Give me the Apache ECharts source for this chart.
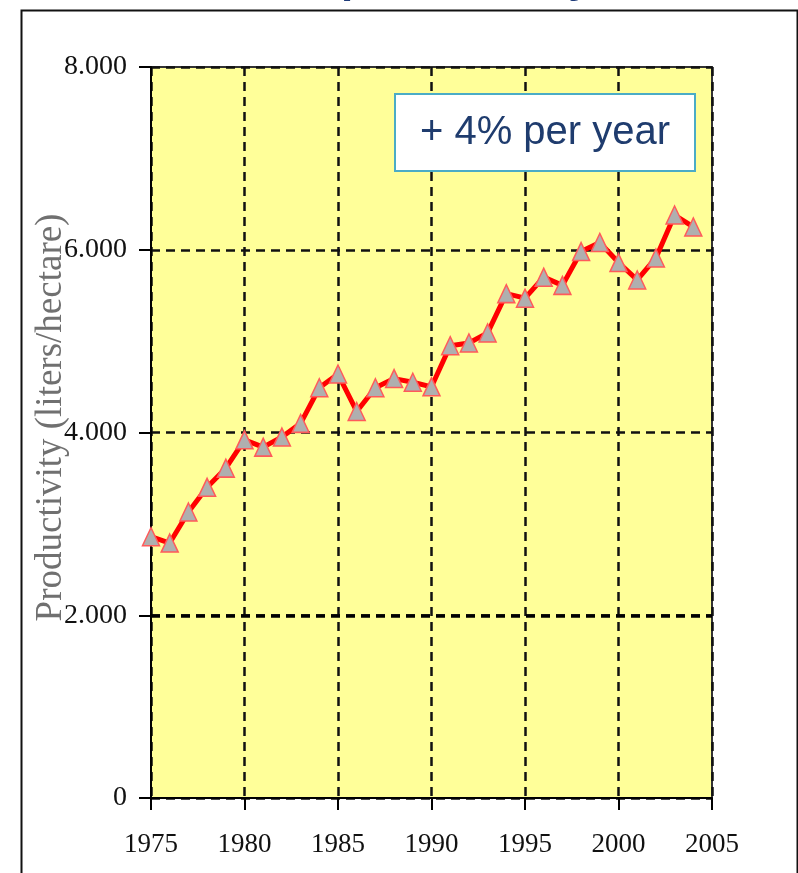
<!DOCTYPE html>
<html>
<head>
<meta charset="utf-8">
<script src="https://cdn.jsdelivr.net/npm/echarts@6/dist/echarts.min.js"></script>
<style>
html,body{margin:0;padding:0;background:#fff;}
#chart{width:798px;height:873px;}
</style>
</head>
<body>
<div id="chart"></div>
<script>
const years = [1975,1976,1977,1978,1979,1980,1981,1982,1983,1984,1985,1986,1987,1988,1989,1990,1991,1992,1993,1994,1995,1996,1997,1998,1999,2000,2001,2002,2003,2004];
const productivity = [2860,2790,3130,3400,3610,3920,3840,3950,4100,4490,4640,4230,4490,4590,4550,4500,4950,4980,5090,5520,5470,5700,5610,5980,6080,5860,5670,5910,6380,6250];
const yTicks = [0,2000,4000,6000,8000];
const xTicks = [1975,1980,1985,1990,1995,2000,2005];
const titleText = 'productivity';
const yAxisName = 'Productivity (liters/hectare)';
const noteText = '+ 4% per year';

const chart = echarts.init(document.getElementById('chart'), null, {renderer:'canvas'});
const serif = '"Liberation Serif","Times New Roman",serif';
const sans = '"Liberation Sans",Arial,sans-serif';
chart.setOption({
  animation:false,
  backgroundColor:'#ffffff',
  grid:{left:151,right:86,top:67,bottom:75,show:true,backgroundColor:'#FFFF99',borderColor:'#333333',borderWidth:2},
  xAxis:{
    type:'value',min:xTicks[0],max:xTicks[xTicks.length-1],interval:5,
    axisLine:{show:true,lineStyle:{color:'#000',width:2}},
    axisTick:{show:true,inside:false,length:12,lineStyle:{color:'#000',width:2}},
    axisLabel:{margin:33,fontFamily:serif,fontSize:27,color:'#111',formatter:v=>String(v)},
    splitLine:{show:true,lineStyle:{color:'#111',width:2.5,type:[9,6]}}
  },
  yAxis:{
    type:'value',min:yTicks[0],max:yTicks[yTicks.length-1],interval:2000,
    name:yAxisName,nameLocation:'middle',nameGap:81,nameMoveOverlap:false,
    nameTextStyle:{fontFamily:serif,fontSize:37,color:'#707070',padding:[0,0,0,30]},
    axisLine:{show:true,lineStyle:{color:'#000',width:2}},
    axisTick:{show:true,inside:false,length:12,lineStyle:{color:'#000',width:2}},
    axisLabel:{margin:24,fontFamily:serif,fontSize:28,color:'#111',
      formatter:v=>v===0?'0':(v/1000).toFixed(0)+'.000'},
    splitLine:{show:true,lineStyle:{color:'#111',width:2.5,type:[9,6]}}
  },
  series:[{
    type:'line',
    data:years.map((y,i)=>[y,productivity[i]]),
    lineStyle:{color:'#FF0000',width:5},
    symbol:'triangle',symbolSize:[17,18],
    itemStyle:{color:'#AFAFAF',borderColor:'#FF5a5a',borderWidth:1.5},
    z:5,
    markLine:{silent:true,symbol:'none',label:{show:false},
      lineStyle:{color:'#000',width:3.5,type:[9,6]},
      data:[{yAxis:2000}]}
  }],
  graphic:[
    {type:'rect',left:19,top:8,shape:{x:0,y:0,width:776,height:900},style:{fill:'none',stroke:'#111',lineWidth:2},z:100},
    {type:'text',x:341,y:-42,style:{text:titleText,font:'bold 44px '+sans,fill:'#1F3C7A',verticalAlign:'top',lineHeight:44}},
    {type:'rect',shape:{x:395,y:94,width:300,height:77},style:{fill:'#fff',stroke:'#4BACC6',lineWidth:2},z:50},
    {type:'text',x:545,y:133,style:{text:noteText,font:'40px '+sans,fill:'#1F3C6E',align:'center',verticalAlign:'middle'},z:51}
  ]
});
</script>
</body>
</html>
